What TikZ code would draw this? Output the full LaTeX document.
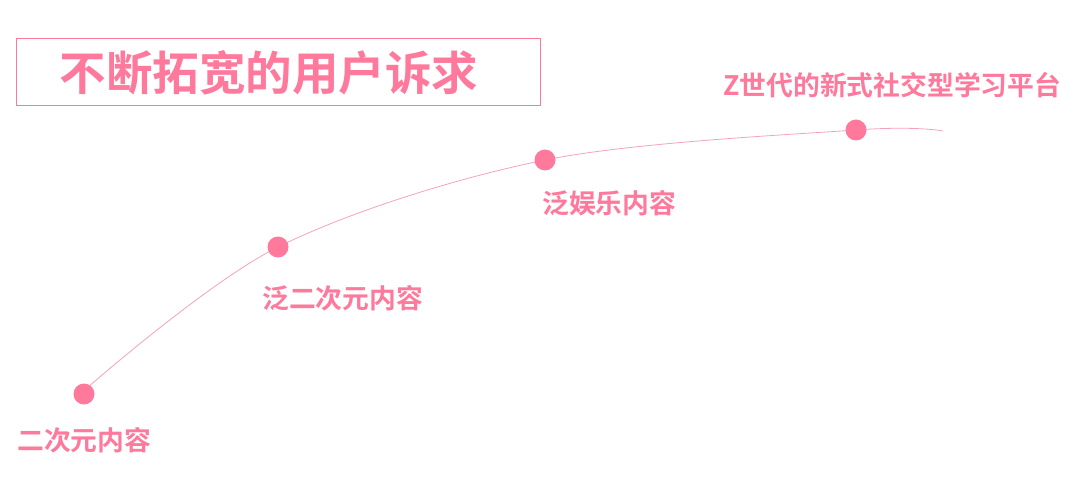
\documentclass[tikz,border=0pt]{standalone}
\usepackage{fontspec}
\newfontfamily\cjk{Noto Sans CJK SC Bold}
\definecolor{pk}{HTML}{FF799C}
\definecolor{pkl}{HTML}{F5A3BC}
\begin{document}
\begin{tikzpicture}[x=1pt,y=-1pt,
  dot/.style={circle,fill=pk,minimum size=21pt,inner sep=0pt},
  lbl/.style={text=pk,font=\cjk\fontsize{26.8}{26.8}\selectfont,inner sep=0pt,anchor=west},
  titlebox/.style={draw=pk,line width=1.2pt,minimum width=524pt,minimum height=67pt,anchor=north west}]
\useasboundingbox[fill=white] (0,0) rectangle (1080,497);
\node[titlebox] (tb) at (16,38) {};
\node[text=pk,font=\cjk\fontsize{46.5}{46.5}\selectfont,inner sep=0pt] (title) at (269,73) {不断拓宽的用户诉求};
\coordinate (s) at (87,388);
\coordinate (e) at (943,131);
\draw[pkl,line width=0.8pt] plot[smooth,tension=0.55] coordinates {(s) (278,247) (545,160) (856,130) (e)};
\node[dot] (d1) at (84,394) {};
\node[dot] (d2) at (278,247) {};
\node[dot] (d3) at (545,160) {};
\node[dot] (d4) at (856,130) {};
\node[lbl] (l1) at (17,440) {二次元内容};
\node[lbl] (l2) at (262,298) {泛二次元内容};
\node[lbl] (l3) at (542,203) {泛娱乐内容};
\node[lbl] (l4) at (723,85) {Z世代的新式社交型学习平台};
\end{tikzpicture}
\end{document}
